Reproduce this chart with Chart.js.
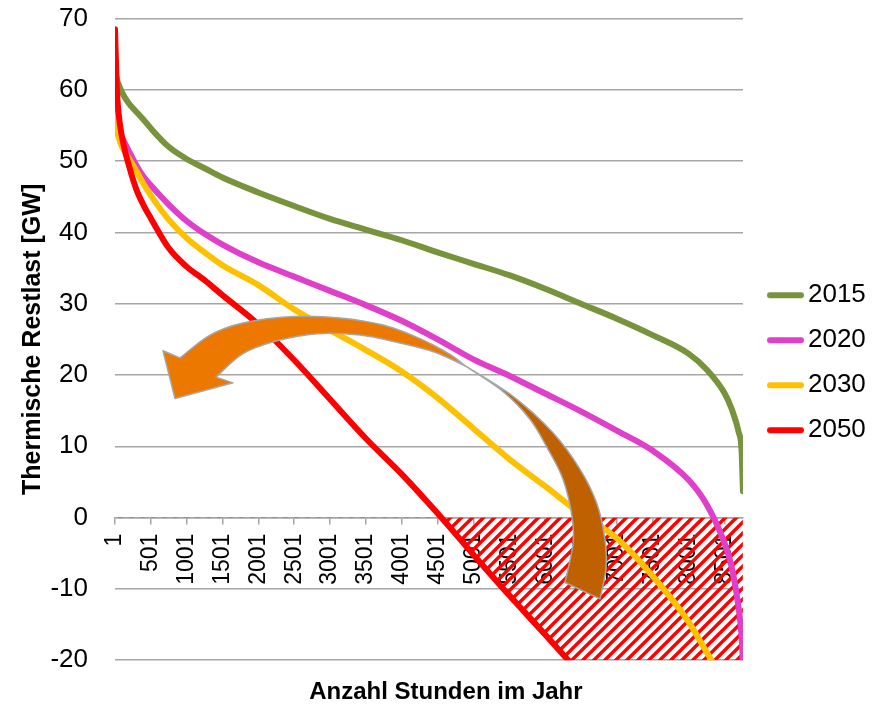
<!DOCTYPE html>
<html>
<head>
<meta charset="utf-8">
<script src="https://cdn.jsdelivr.net/npm/chart.js@4.4.1/dist/chart.umd.min.js"></script>
<style>
  html, body { margin: 0; padding: 0; background: #ffffff; }
  #c { display: block; }
</style>
</head>
<body>
<canvas id="c" width="879" height="707"></canvas>
<script>
// ---------- DATA ----------
const hours = [1, 25, 50, 100, 200, 300, 400, 500, 750, 1000, 1250, 1500, 2000, 2500, 3000, 3500,
               4000, 4500, 5000, 5500, 6000, 6500, 7000, 7500, 8000, 8250, 8500, 8600, 8700, 8740, 8760];

const s2015 = [63.0, 61.6, 60.8, 59.6, 58.0, 56.9, 55.8, 54.6, 52.0, 50.3, 49.0, 47.7, 45.6, 43.7, 41.9, 40.4,
               38.9, 37.2, 35.6, 34.0, 32.1, 30.0, 27.9, 25.6, 23.0, 20.8, 17.5, 15.3, 12.0, 9.5, 3.7];

const s2020 = [57.0, 55.3, 54.4, 53.3, 51.3, 49.4, 47.8, 46.6, 43.9, 41.6, 39.8, 38.3, 35.8, 33.8, 31.8, 29.8,
               27.6, 25.0, 22.2, 19.9, 17.4, 14.9, 12.2, 9.4, 5.3, 1.9, -3.5, -6.8, -12.7, -16.5, -20.3];

const s2030 = [56.5, 54.5, 53.4, 52.0, 50.3, 48.6, 46.8, 45.2, 41.8, 39.2, 37.2, 35.4, 32.6, 29.2, 26.3, 23.5,
               20.5, 16.8, 12.5, 8.2, 4.4, 0.5, -2.9, -8.2, -14.6, -18.8, -23.0, null, null, null, null];

const s2050 = [68.5, 60.5, 56.8, 53.3, 49.2, 46.0, 43.8, 42.0, 37.8, 35.2, 33.3, 31.2, 27.1, 22.1, 16.6, 11.1,
               6.1, 0.6, -5.2, -10.9, -16.4, -22.0, -27.5, -33.0, -38.5, -41.0, -43.5, -44.5, -45.5, -46.0, -46.3];

const seriesLabels = ['2015', '2020', '2030', '2050'];
const xTicks = [1, 501, 1001, 1501, 2001, 2501, 3001, 3501, 4001, 4501, 5001, 5501, 6001, 6501, 7001, 7501, 8001, 8501];
const yMin = -20, yMax = 70, yStep = 10;
const xMin = 1, xMax = 8760;

// Annotation arrow geometry in data units (hours, GW)
const arrowHead = [[670, 23.4], [838, 16.7], [1647, 18.9]];
const arrowFrontOuter = [[908, 22.4], [1326, 25.6], [1786, 27.3], [2484, 28.2], [3139, 28.0], [3739, 27.0], [4255, 25.1], [4673, 22.9], [4882, 21.3]];
const arrowFrontInner = [[1410, 19.7], [1786, 23.0], [2260, 24.8], [2818, 25.8], [3418, 25.6], [3976, 24.5], [4464, 23.2], [4882, 21.3]];
const arrowBackOuter = [[4882, 21.3], [5552, 17.0], [6110, 11.9], [6486, 6.8], [6724, 1.9], [6835, -3.1], [6849, -7.2], [6765, -11.4]];
const arrowBackInner = [[4882, 21.3], [5412, 17.7], [5789, 13.8], [6040, 9.6], [6249, 5.4], [6375, 0.2], [6389, -3.7], [6277, -9.1]];

// ---------- STYLES ----------
const COLORS = { '2015': '#77933C', '2020': '#E03FCB', '2030': '#FFC000', '2050': '#FF0000' };
const GRID = '#A6A6A6';
Chart.defaults.font.family = "'Liberation Sans', Arial, sans-serif";
Chart.defaults.color = '#000';

function pts(arr) { return hours.map((h, i) => ({ x: h, y: arr[i] })); }

function makeHatch() {
  const s = 11;
  const c = document.createElement('canvas');
  c.width = s; c.height = s;
  const g = c.getContext('2d');
  g.strokeStyle = '#FF0000';
  g.lineWidth = 3.4;
  g.beginPath();
  g.moveTo(-2, s + 2); g.lineTo(s + 2, -2);
  g.moveTo(-2, 2); g.lineTo(2, -2);
  g.moveTo(s - 2, s + 2); g.lineTo(s + 2, s - 2);
  g.stroke();
  return g.createPattern(c, 'repeat');
}

function legendLine(color) {
  const c = document.createElement('canvas');
  c.width = 51; c.height = 8;
  const g = c.getContext('2d');
  g.strokeStyle = color; g.lineWidth = 6; g.lineCap = 'round';
  g.beginPath(); g.moveTo(17, 4); g.lineTo(48, 4); g.stroke();
  return c;
}

function lineDs(label, arr, extra) {
  return Object.assign({
    label: label,
    data: pts(arr),
    borderColor: COLORS[label],
    backgroundColor: COLORS[label],
    borderWidth: 6,
    pointRadius: 0,
    pointHoverRadius: 0,
    cubicInterpolationMode: 'monotone',
    borderCapStyle: 'round',
    borderJoinStyle: 'round',
    fill: false
  }, extra || {});
}

function splineThrough(ctx, p) {
  for (let i = 0; i < p.length - 1; i++) {
    const p0 = p[i - 1] || p[i], p1 = p[i], p2 = p[i + 1], p3 = p[i + 2] || p2;
    ctx.bezierCurveTo(
      p1[0] + (p2[0] - p0[0]) / 6, p1[1] + (p2[1] - p0[1]) / 6,
      p2[0] - (p3[0] - p1[0]) / 6, p2[1] - (p3[1] - p1[1]) / 6,
      p2[0], p2[1]);
  }
}

const arrowPlugin = {
  id: 'curvedArrow',
  afterDraw(chart) {
    const { ctx, scales: { x, y } } = chart;
    const P = (a) => a.map(q => [x.getPixelForValue(q[0]), y.getPixelForValue(q[1])]);
    const head = P(arrowHead), fo = P(arrowFrontOuter), fi = P(arrowFrontInner);
    const bo = P(arrowBackOuter), bi = P(arrowBackInner);
    ctx.save();
    ctx.lineJoin = 'round';
    ctx.lineWidth = 1.5;
    ctx.strokeStyle = '#A6A6A6';
    // back face (brown)
    ctx.beginPath();
    ctx.moveTo(bo[0][0], bo[0][1]);
    splineThrough(ctx, bo);
    const biR = bi.slice().reverse();
    ctx.lineTo(biR[0][0], biR[0][1]);
    splineThrough(ctx, biR);
    ctx.closePath();
    ctx.fillStyle = '#BF6100';
    ctx.fill(); ctx.stroke();
    // front face (orange) with head
    ctx.beginPath();
    ctx.moveTo(head[0][0], head[0][1]);
    ctx.lineTo(head[1][0], head[1][1]);
    ctx.lineTo(head[2][0], head[2][1]);
    ctx.lineTo(fi[0][0], fi[0][1]);
    splineThrough(ctx, fi);
    const foR = fo.slice().reverse();
    ctx.lineTo(foR[0][0], foR[0][1]);
    splineThrough(ctx, foR);
    ctx.closePath();
    ctx.fillStyle = '#ED7800';
    ctx.fill(); ctx.stroke();
    ctx.restore();
  }
};

const hatch = makeHatch();

new Chart(document.getElementById('c'), {
  type: 'line',
  data: {
    datasets: [
      lineDs('2050', s2050, { fill: { target: { value: 0 }, above: 'rgba(0,0,0,0)', below: hatch } }),
      lineDs('2030', s2030),
      lineDs('2020', s2020),
      lineDs('2015', s2015)
    ]
  },
  options: {
    responsive: false,
    animation: false,
    events: [],
    layout: { padding: { top: 18.5, right: 3.2, left: 16, bottom: 0 } },
    scales: {
      x: {
        type: 'linear',
        min: xMin, max: xMax,
        position: { y: 0 },
        z: 1,
        afterBuildTicks: (s) => { s.ticks = xTicks.map(v => ({ value: v })); },
        ticks: {
          autoSkip: false, minRotation: 90, maxRotation: 90,
          font: { size: 23 }, color: '#000', padding: 10,
          callback: (v) => String(v)
        },
        grid: { drawOnChartArea: false, drawTicks: true, tickLength: 6, color: GRID, lineWidth: 1.5 },
        border: { display: true, color: GRID, width: 1.5 }
      },
      y: {
        min: yMin, max: yMax,
        ticks: { stepSize: yStep, font: { size: 26 }, color: '#000', padding: 27 },
        grid: { color: GRID, lineWidth: 1.5, drawTicks: false },
        border: { display: false },
        title: {
          display: true, text: 'Thermische Restlast [GW]',
          font: { size: 25, weight: 'bold' }, color: '#000',
          padding: { top: 2.5, bottom: 0 }
        },
        afterFit: (s) => { s.width = 99; s.paddingTop = 10; s.paddingBottom = 10; }
      }
    },
    plugins: {
      filler: { drawTime: 'beforeDatasetsDraw' },
      tooltip: { enabled: false },
      legend: {
        position: 'right',
        reverse: true,
        labels: {
          usePointStyle: true,
          pointStyleWidth: 33,
          padding: 19,
          font: { size: 26 },
          color: '#000',
          generateLabels: (chart) => {
            const items = Chart.defaults.plugins.legend.labels.generateLabels(chart);
            items.forEach(it => { it.pointStyle = legendLine(chart.data.datasets[it.datasetIndex].borderColor); });
            return items;
          }
        }
      },
      title: {
        display: true, position: 'bottom', text: 'Anzahl Stunden im Jahr',
        font: { size: 24, weight: 'bold' }, color: '#000',
        padding: { top: 18, bottom: 0 }
      }
    }
  },
  plugins: [arrowPlugin]
});
</script>
</body>
</html>
